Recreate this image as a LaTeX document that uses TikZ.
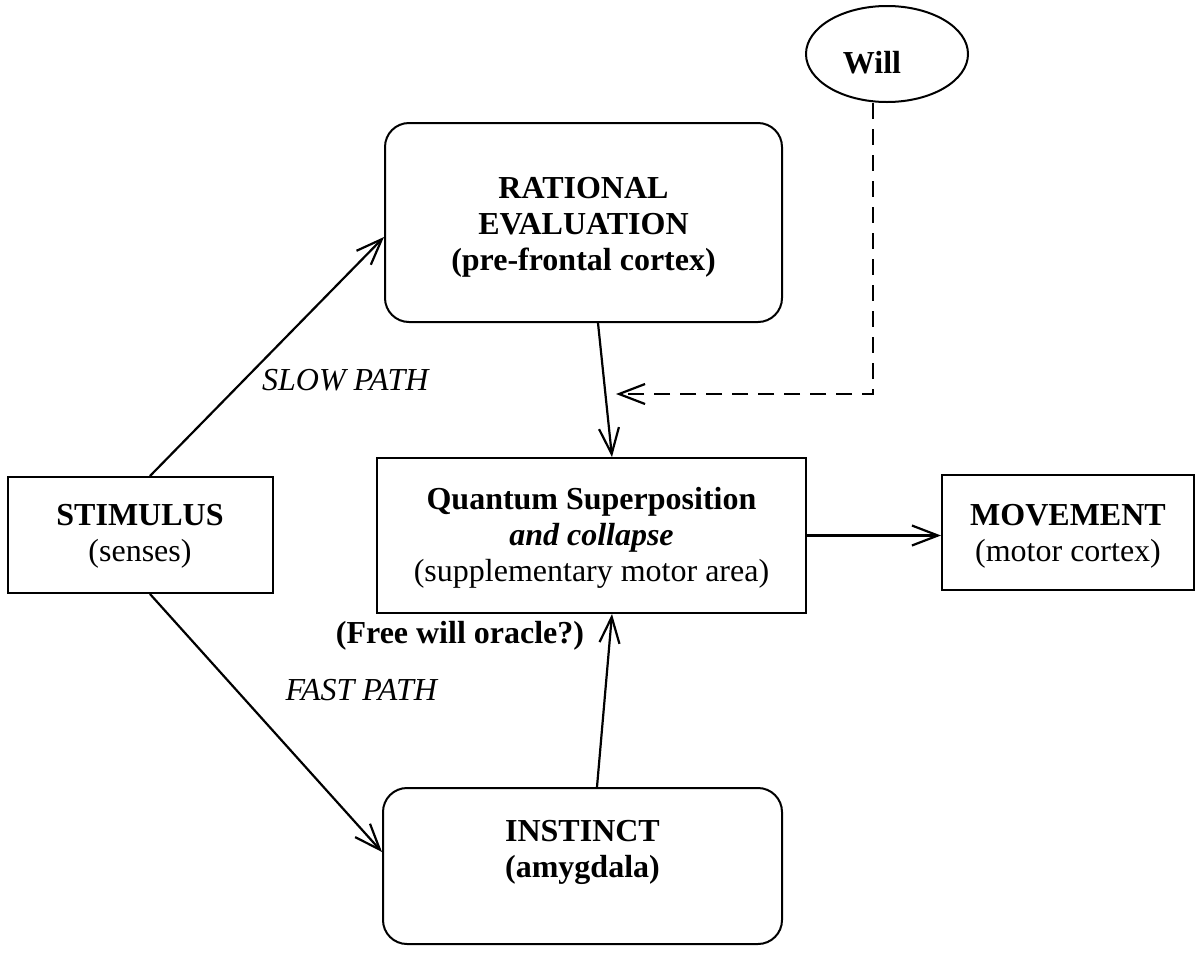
\documentclass[tikz,border=0pt]{standalone}
\usepackage{fontspec}
\setmainfont{Liberation Serif}
\usetikzlibrary{arrows.meta,shapes.geometric,calc}
\begin{document}
\begin{tikzpicture}[x=1pt,y=-1pt,
  font=\fontsize{32}{36}\selectfont,
  box/.style={draw,line width=2pt,inner sep=0pt},
  rbox/.style={box,rounded corners=24pt},
  txt/.style={align=center,inner sep=0pt},
  conn/.style={line width=2.2pt,-{Straight Barb[length=26pt,width=20pt,line width=2.2pt]}},
  dconn/.style={conn,dash pattern=on 16pt off 10pt}]
\useasboundingbox (0,0) rectangle (1203,954);

\node[box,minimum width=265pt,minimum height=116pt] (stim) at (140.5,535) {};
\node[rbox,minimum width=397pt,minimum height=199pt] (rat) at (583.5,222.5) {};
\node[box,minimum width=429pt,minimum height=155pt] (qs) at (591.5,535.5) {};
\node[box,minimum width=252pt,minimum height=115pt] (mov) at (1068,532.5) {};
\node[rbox,minimum width=399pt,minimum height=156pt] (inst) at (582.5,866) {};
\node[draw,line width=2pt,ellipse,minimum width=162pt,minimum height=96pt,inner sep=0pt] (will) at (887,54) {};

\node[txt] (stimt) at (140,536.5) {\textbf{STIMULUS}\\(senses)};
\node[txt] (ratt) at (583.5,227.5) {\textbf{RATIONAL}\\\textbf{EVALUATION}\\\textbf{(pre-frontal cortex)}};
\node[txt] (qst) at (591.5,537.5) {\textbf{Quantum Superposition}\\\textbf{\textit{and collapse}}\\(supplementary motor area)};
\node[txt] (movt) at (1068,536.5) {\textbf{MOVEMENT}\\(motor cortex)};
\node[txt] (instt) at (582.5,852) {\textbf{INSTINCT}\\\textbf{(amygdala)}};
\node[txt] (willt) at (872,63) {\textbf{Will}};

\node[txt] (slow) at (346,380) {\textit{SLOW PATH}};
\node[txt] (fast) at (362,690) {\textit{FAST PATH}};
\node[txt] (oracle) at (460,636) {\textbf{(Free will oracle?)}};

\coordinate (dtip) at (616,394);

\draw[conn] ($(stim.north)+(9.5,0)$) -- ($(rat.west)+(0,14.5)$);
\draw[conn] ($(stim.south)+(9.5,0)$) -- ($(inst.west)+(0,-14)$);
\draw[conn] ($(rat.south)+(14.5,0)$) -- ($(qs.north)+(20.5,0)$);
\draw[conn] ($(inst.north)+(14.5,0)$) -- ($(qs.south)+(20.5,0)$);
\draw[conn] (qs.east) -- (qs.east -| mov.west);
\draw[dconn] ($(will.south)+(-14,0)$) |- (dtip);
\end{tikzpicture}
\end{document}
